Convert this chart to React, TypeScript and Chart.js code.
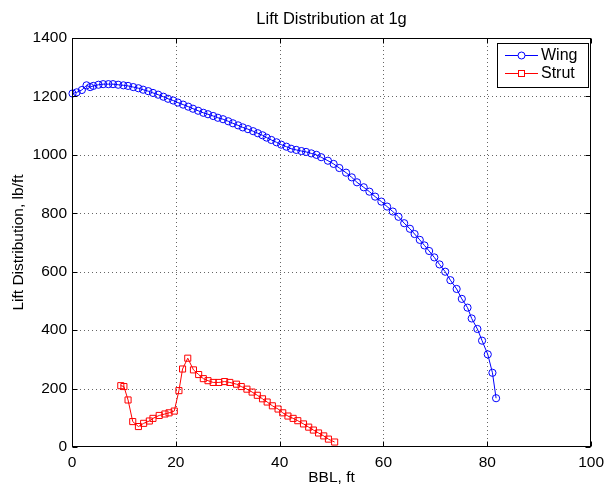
import React, { useEffect, useRef } from "react";
import { Chart, registerables } from "chart.js";

Chart.register(...registerables);

const TITLE = "Lift Distribution at 1g";
const X_LABEL = "BBL, ft";
const Y_LABEL = "Lift Distribution, lb/ft";
const X_TICKS = [0, 20, 40, 60, 80, 100];
const Y_TICKS = [0, 200, 400, 600, 800, 1000, 1200, 1400];
const SERIES_NAMES = ["Wing", "Strut"];

const wingX = [
  0.1, 0.9, 1.9, 2.8, 3.5, 4.1, 5.1, 6.0, 7.0, 7.9, 8.9, 9.9, 10.8, 11.8, 12.8, 13.7,
  14.7, 15.6, 16.6, 17.6, 18.5, 19.5, 20.4, 21.4, 22.4, 23.3, 24.3, 25.3, 26.2, 27.2,
  28.1, 29.1, 30.1, 31.0, 32.0, 32.9, 33.9, 34.9, 35.8, 36.7, 37.5, 38.4, 39.4, 40.3,
  41.3, 42.2, 43.2, 44.2, 45.1, 46.1, 47.1, 48.0, 49.3, 50.4, 51.5, 52.8, 53.9, 54.9,
  56.2, 57.3, 58.4, 59.6, 60.7, 61.8, 62.9, 64.0, 65.1, 66.0, 67.0, 67.9, 68.8, 69.8,
  70.8, 71.9, 72.9, 74.1, 75.1, 76.2, 77.0, 78.1, 79.0, 80.1, 81.0, 81.7,
];
const wingY = [
  1210, 1214, 1222, 1238, 1232, 1236, 1240, 1242, 1242, 1242, 1240, 1238, 1236, 1232,
  1228, 1223, 1218, 1212, 1206, 1199, 1192, 1186, 1179, 1172, 1165, 1158, 1151, 1144,
  1139, 1133, 1127, 1122, 1115, 1108, 1101, 1094, 1088, 1081, 1074, 1067, 1059, 1051,
  1043, 1035, 1028, 1021, 1017, 1013, 1010, 1005, 1000, 992, 980, 969, 955, 939, 923,
  906, 889, 874, 857, 840, 823, 806, 788, 766, 747, 729, 709, 690, 671, 649, 625, 600,
  571, 541, 507, 477, 440, 404, 364, 317, 254, 167,
];

const strutX = [
  9.4, 10.0, 10.8, 11.7, 12.8, 13.8, 14.9, 15.6, 16.8, 17.9, 18.7, 19.7, 20.6, 21.3,
  22.3, 23.4, 24.4, 25.3, 26.2, 27.2, 28.3, 29.4, 30.4, 31.7, 32.6, 33.7, 34.7, 35.7,
  36.7, 37.6, 38.6, 39.7, 40.6, 41.6, 42.6, 43.5, 44.6, 45.6, 46.5, 47.5, 48.5, 49.4,
  50.6,
];
const strutY = [
  210, 207, 161, 87, 70, 81, 89, 98, 108, 113, 117, 123, 193, 267, 304, 264, 248, 234,
  227, 221, 221, 224, 221, 215, 207, 198, 188, 177, 165, 154, 141, 130, 117, 106, 98,
  90, 79, 68, 58, 48, 38, 27, 17,
];

const FONT = '"Liberation Sans", Arial, Helvetica, sans-serif';
const BLUE = "#0000ff";
const RED = "#ff0000";

const framePlugin = {
  id: "matlabFrame",
  beforeDatasetsDraw(chart: any) {
    const { ctx, chartArea, scales } = chart;
    const { left, right, top, bottom } = chartArea;
    const x = scales.x;
    const y = scales.y;
    ctx.save();
    ctx.strokeStyle = "rgba(0,0,0,0.6)";
    ctx.lineWidth = 1;
    ctx.setLineDash([1, 3]);
    for (const v of X_TICKS) {
      const px = Math.round(x.getPixelForValue(v)) + 0.5;
      if (px <= left + 2 || px >= right - 2) continue;
      ctx.beginPath();
      ctx.moveTo(px, top);
      ctx.lineTo(px, bottom);
      ctx.stroke();
    }
    for (const v of Y_TICKS) {
      const py = Math.round(y.getPixelForValue(v)) + 0.5;
      if (py <= top + 2 || py >= bottom - 2) continue;
      ctx.beginPath();
      ctx.moveTo(left, py);
      ctx.lineTo(right, py);
      ctx.stroke();
    }
    ctx.restore();
  },
  afterDatasetsDraw(chart: any) {
    const { ctx, chartArea, scales } = chart;
    const { left, right, top, bottom } = chartArea;
    const x = scales.x;
    const y = scales.y;
    ctx.save();
    ctx.setLineDash([]);
    ctx.strokeStyle = "#000";
    ctx.lineWidth = 1;
    const L = Math.round(left) + 0.5;
    const R = Math.round(right) - 0.5;
    const T = Math.round(top) + 0.5;
    const B = Math.round(bottom) - 0.5;
    ctx.strokeRect(L, T, R - L, B - T);
    const tl = 5;
    ctx.beginPath();
    for (const v of X_TICKS) {
      const px = Math.round(x.getPixelForValue(v)) + 0.5;
      ctx.moveTo(px, B);
      ctx.lineTo(px, B - tl);
      ctx.moveTo(px, T);
      ctx.lineTo(px, T + tl);
    }
    for (const v of Y_TICKS) {
      const py = Math.round(y.getPixelForValue(v)) + 0.5;
      ctx.moveTo(L, py);
      ctx.lineTo(L + tl, py);
      ctx.moveTo(R, py);
      ctx.lineTo(R - tl, py);
    }
    ctx.stroke();

    // title
    ctx.fillStyle = "#000";
    ctx.font = `16.5px ${FONT}`;
    ctx.textAlign = "center";
    ctx.textBaseline = "middle";
    ctx.fillText(TITLE, (left + right) / 2, 19);

    // legend
    const bx = 497.5, by = 43.5, bw = 91, bh = 44;
    ctx.fillStyle = "#fff";
    ctx.fillRect(bx, by, bw, bh);
    ctx.strokeStyle = "#000";
    ctx.strokeRect(bx, by, bw, bh);
    const rows = [
      { name: SERIES_NAMES[0], color: BLUE, yy: 55.5, marker: "circle" },
      { name: SERIES_NAMES[1], color: RED, yy: 73.5, marker: "square" },
    ];
    for (const r of rows) {
      ctx.strokeStyle = r.color;
      ctx.lineWidth = 1;
      ctx.beginPath();
      ctx.moveTo(505, r.yy);
      ctx.lineTo(538, r.yy);
      ctx.stroke();
      ctx.fillStyle = "#fff";
      if (r.marker === "circle") {
        ctx.beginPath();
        ctx.arc(521.5, r.yy, 3.5, 0, Math.PI * 2);
        ctx.fill();
        ctx.stroke();
      } else {
        ctx.fillRect(518.5, r.yy - 3, 6, 6);
        ctx.strokeRect(518.5, r.yy - 3, 6, 6);
      }
      ctx.fillStyle = "#000";
      ctx.font = `16px ${FONT}`;
      ctx.textAlign = "left";
      ctx.textBaseline = "middle";
      ctx.fillText(r.name, 541, r.yy + 0.5);
    }
    ctx.restore();
  },
};

export default function App() {
  const ref = useRef<HTMLCanvasElement | null>(null);
  useEffect(() => {
    if (!ref.current) return;
    const wing = wingX.map((v, i) => ({ x: v, y: wingY[i] }));
    const strut = strutX.map((v, i) => ({ x: v, y: strutY[i] }));
    const chart = new Chart(ref.current, {
      type: "scatter",
      data: {
        datasets: [
          {
            label: SERIES_NAMES[0],
            data: wing,
            showLine: true,
            borderColor: BLUE,
            borderWidth: 1,
            backgroundColor: "rgba(0,0,0,0)",
            pointBackgroundColor: "rgba(0,0,0,0)",
            pointBorderColor: BLUE,
            pointBorderWidth: 1,
            pointStyle: "circle",
            pointRadius: 3.6,
            tension: 0,
            clip: false as any,
          },
          {
            label: SERIES_NAMES[1],
            data: strut,
            showLine: true,
            borderColor: RED,
            borderWidth: 1,
            backgroundColor: "rgba(0,0,0,0)",
            pointBackgroundColor: "rgba(0,0,0,0)",
            pointBorderColor: RED,
            pointBorderWidth: 1,
            pointStyle: "rect",
            pointRadius: 4.3,
            tension: 0,
            clip: false as any,
          },
        ],
      },
      options: {
        animation: false,
        responsive: false,
        maintainAspectRatio: false,
        devicePixelRatio: 1,
        layout: { padding: { left: 0, right: 18, top: 38, bottom: 0 } },
        plugins: {
          legend: { display: false },
          title: { display: false },
          tooltip: { enabled: false },
        },
        scales: {
          x: {
            type: "linear",
            min: 0,
            max: 100,
            grid: { display: false, drawTicks: false },
            border: { display: false },
            ticks: {
              stepSize: 20,
              padding: 6,
              color: "#000",
              font: { family: FONT, size: 15.5 },
              maxRotation: 0,
              callback: (v: any) => String(v),
            },
            title: {
              display: true,
              text: X_LABEL,
              color: "#000",
              font: { family: FONT, size: 15.5 },
              padding: { top: 0, bottom: 4 },
            },
            afterFit: (s: any) => {
              s.height = 44;
            },
          },
          y: {
            type: "linear",
            min: 0,
            max: 1400,
            grid: { display: false, drawTicks: false },
            border: { display: false },
            ticks: {
              stepSize: 200,
              padding: 5,
              color: "#000",
              font: { family: FONT, size: 15.5 },
              callback: (v: any) => String(v),
            },
            title: {
              display: true,
              text: Y_LABEL,
              color: "#000",
              font: { family: FONT, size: 15.5 },
              padding: { top: 9, bottom: 0 },
            },
            afterFit: (s: any) => {
              s.width = 72;
            },
          },
        },
      },
      plugins: [framePlugin],
    });
    return () => chart.destroy();
  }, []);
  return (
    <div style={{ position: "absolute", left: 0, top: 0, width: 610, height: 491, background: "#fff" }}>
      <canvas ref={ref} width={610} height={491} style={{ display: "block" }} />
    </div>
  );
}
